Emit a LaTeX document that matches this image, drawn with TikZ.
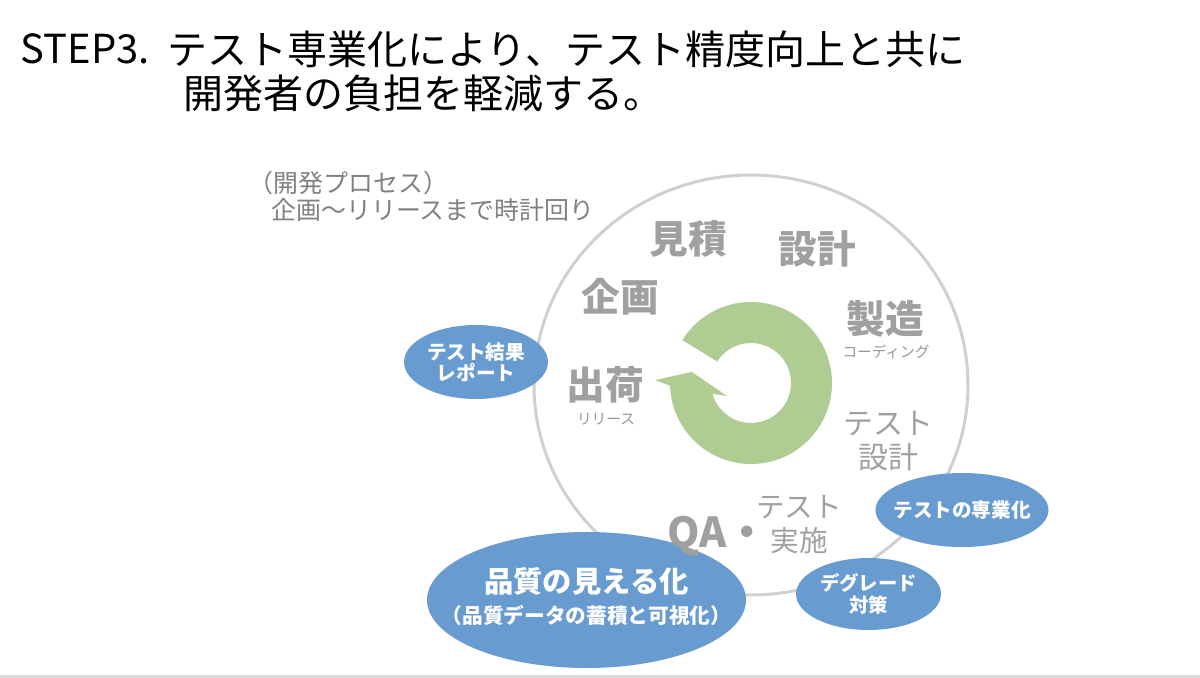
\documentclass[tikz,border=0pt]{standalone}
\usepackage{fontspec}
\setmainfont{Noto Sans CJK JP}
\usetikzlibrary{shapes.geometric}
\tikzset{every picture/.style={line width=0.75pt}}

\begin{document}
\begin{tikzpicture}[x=0.75pt,y=0.75pt,yscale=-1,xscale=1,
  headline/.style={anchor=west, inner sep=0pt, font=\fontsize{30}{36}\selectfont},
  memo/.style={anchor=west, inner sep=0pt, text={rgb, 255:red, 128; green, 128; blue, 128}, font=\fontsize{18.7}{22}\selectfont},
  phase/.style={inner sep=0.75pt, text={rgb, 255:red, 160; green, 160; blue, 160}, font=\fontsize{29}{34}\selectfont\bfseries},
  phasesub/.style={inner sep=0.75pt, text={rgb, 255:red, 150; green, 150; blue, 150}, font=\fontsize{11}{13}\selectfont},
  phasetwo/.style={inner sep=0.75pt, align=center, text={rgb, 255:red, 160; green, 160; blue, 160}, font=\fontsize{22.5}{25}\selectfont},
  bubble/.style={ellipse, inner sep=0pt, fill={rgb, 255:red, 104; green, 155; blue, 208}},
  bubbletext/.style={inner sep=0pt, text=white, align=center, font=\fontsize{14.7}{16}\selectfont\bfseries},
]
\useasboundingbox (0,0) rectangle (1200,678);

%Straight Lines: bottom rule
\draw  [color={rgb, 255:red, 217; green, 217; blue, 217 }  ,draw opacity=1 ][line width=2.25]  (0,676) -- (1200,676) ;
%Shape: Ellipse (process cycle)
\draw  [color={rgb, 255:red, 208; green, 208; blue, 208 }  ,draw opacity=1 ][line width=2.25]  (751,385) ellipse (217 and 210) ;
%Shape: Circular Arrow
\fill  [color={rgb, 255:red, 175; green, 205; blue, 147 }  ,fill opacity=1 ]  (682.31,340.08) arc (-148:178:81) -- (655,380) -- (692,372) -- (727,396) -- (712.5,393.8) arc (164.3:-147.5:40) -- cycle ;

% Bubbles
\draw (476,362) node [bubble] [minimum width=108pt, minimum height=55.5pt] (report) {};
\draw (report.center) node [bubbletext] (reporttext) {テスト結果\\レポート};
\draw (962,510) node [bubble] [minimum width=129.75pt, minimum height=55.5pt] (senka) {};
\draw (senka.center) node [bubbletext] (senkatext) {テストの専業化};
\draw (868.5,594) node [bubble] [minimum width=108.75pt, minimum height=54pt] (degrade) {};
\draw (degrade.center) node [bubbletext] [font=\fontsize{14.5}{16.5}\selectfont\bfseries] (degradetext) {デグレード\\対策};
\draw (586.5,600) node [bubble] [minimum width=239.25pt, minimum height=102pt] (mieru) {};
\draw (586.5,596.5) node [bubbletext] [font=\fontsize{15.5}{23.25}\selectfont\bfseries] (mierutext) {{\fontsize{22}{23.25}\selectfont 品質の見える化}\\（品質データの蓄積と可視化）};

% Title
\draw (20,49) node [headline] (steptag) {STEP3.};
\draw (167,49) node [headline] (titleone) {テスト専業化により、テスト精度向上と共に};
\draw (183,93) node [headline] (titletwo) {開発者の負担を軽減する。};

% Text Node
\draw (248,183) node [memo] (memoone) {（開発プロセス）};
\draw (271,210) node [memo] (memotwo) {企画～リリースまで時計回り};

% Phases
\draw (688,239) node [phase] (mitsumori) {見積};
\draw (817,249) node [phase] (sekkei) {設計};
\draw (620,297) node [phase] (kikaku) {企画};
\draw (885,319) node [phase] (seizo) {製造};
\draw (886,352) node [phasesub] (coding) {コーディング};
\draw (605,385) node [phase] (shukka) {出荷};
\draw (606,419) node [phasesub] (release) {リリース};
\draw (888,441) node [phasetwo] (testsekkei) {テスト\\設計};
\draw (667,547) node [phase] [anchor=base west, inner sep=0pt] (qajisshi) {{\fontsize{31}{36}\selectfont QA・}\hspace{-9pt}\raisebox{8.9pt}{\mdseries\fontsize{21.5}{25}\selectfont\begin{tabular}{@{}c@{}}テスト\\実施\end{tabular}}};

\end{tikzpicture}
\end{document}
